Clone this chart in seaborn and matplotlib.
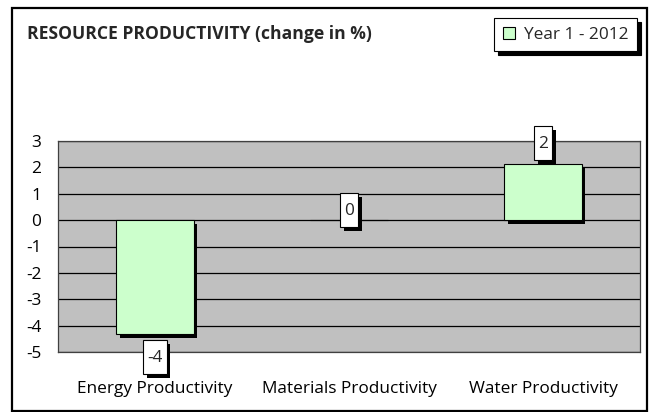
import matplotlib
matplotlib.use("Agg")
import matplotlib.pyplot as plt
import matplotlib.patheffects as pe
from matplotlib.patches import Patch, Rectangle
from matplotlib.path import Path
import seaborn as sns
import pandas as pd

categories = ["Energy Productivity", "Materials Productivity", "Water Productivity"]
values = [-4.32, 0.0, 2.13]
label_texts = ["-4", "0", "2"]
series_name = "Year 1 - 2012"
y_ticks = [-5, -4, -3, -2, -1, 0, 1, 2, 3]
title = "RESOURCE PRODUCTIVITY (change in %)"

sns.set_style("white")
plt.rcParams["font.family"] = ["Open Sans", "DejaVu Sans"]
FS = 12.4

df = pd.DataFrame({"category": categories, "value": values, "series": series_name})

fig = plt.figure(figsize=(6.57, 4.12), dpi=100)
fig.patch.set_facecolor("white")
ax = fig.add_axes([58 / 657, 60 / 412, (640 - 58) / 657, (352 - 141) / 412])
ax.set_facecolor("#C0C0C0")

sns.barplot(data=df, x="category", y="value", color="#CCFFCC", edgecolor="black",
            linewidth=0.8, width=0.4, ax=ax, zorder=3, saturation=1)

shadow = [pe.SimplePatchShadow(offset=(2.6, -2.6), shadow_rgbFace="black", alpha=1.0), pe.Normal()]
for p in ax.patches:
    p.set_path_effects(shadow)

ax.set_ylim(-5, 3)
ax.set_yticks(y_ticks)
ax.set_yticklabels([str(t) for t in y_ticks])
for t in y_ticks:
    ax.axhline(t, color="black", lw=0.9, zorder=1)
ax.set_xlabel("")
ax.set_ylabel("")
ax.tick_params(axis="both", length=0, labelsize=FS, colors="black")
ax.tick_params(axis="y", pad=12)
ax.tick_params(axis="x", pad=21)
for s in ax.spines.values():
    s.set_color("#404040")
    s.set_linewidth(0.9)


def label_box(x0, y0, width, height, mutation_size):
    padx = 4
    ptop = 10
    pbot = 8
    x0 -= padx
    x1 = x0 + width + 2 * padx
    yb = y0 - pbot
    yt = y0 + height + ptop
    return Path([(x0, yb), (x1, yb), (x1, yt), (x0, yt), (x0, yb)],
                [Path.MOVETO, Path.LINETO, Path.LINETO, Path.LINETO, Path.CLOSEPOLY])


for i, (v, lab) in enumerate(zip(values, label_texts)):
    if v < 0:
        off = -24 * 0.72
    elif v > 0:
        off = 20 * 0.72
    else:
        off = 9 * 0.72
    t = ax.annotate(lab, xy=(i, v), xytext=(0, off), textcoords="offset points",
                    ha="center", va="center", fontsize=FS, zorder=6,
                    bbox=dict(boxstyle=label_box, facecolor="white", edgecolor="black", lw=0.8),
                    annotation_clip=False)
    t.get_bbox_patch().set_path_effects(
        [pe.SimplePatchShadow(offset=(2.6, -2.6), shadow_rgbFace="black", alpha=1.0), pe.Normal()])

fig.text(27 / 657, 1 - 34 / 412, title, fontsize=12.6, fontweight="bold", va="center", ha="left")

handle = Patch(facecolor="#CCFFCC", edgecolor="black", linewidth=0.8)
leg = fig.legend([handle], [series_name], loc="upper right",
                 bbox_to_anchor=(637 / 657, 1 - 18 / 412), bbox_transform=fig.transFigure,
                 fontsize=FS, frameon=True, fancybox=False, framealpha=1,
                 edgecolor="black", borderpad=0.5, handlelength=0.7, handleheight=0.7,
                 handletextpad=0.5, borderaxespad=0,
                 shadow={"color": "black", "alpha": 1, "ox": 2.6, "oy": -2.6})
leg.get_frame().set_linewidth(0.8)

fig.patches.append(Rectangle((12 / 657, 1 / 412), (647 - 12) / 657, (411 - 7 - 1) / 412,
                             transform=fig.transFigure, fill=False, edgecolor="black",
                             lw=1.6, zorder=10))

fig.savefig("out.png", dpi=100)
